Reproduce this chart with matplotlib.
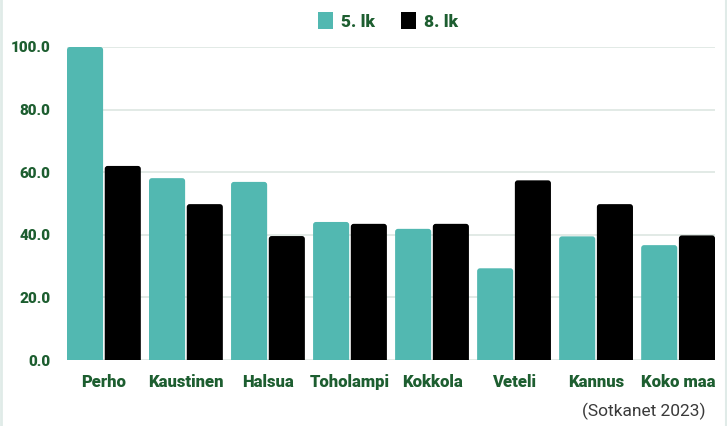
import matplotlib
matplotlib.use('Agg')
import matplotlib.pyplot as plt
from matplotlib.patches import FancyBboxPatch, Patch
import numpy as np

# data
kunnat = ['Perho', 'Kaustinen', 'Halsua', 'Toholampi', 'Kokkola', 'Veteli', 'Kannus', 'Koko maa']
lk5 = [100.0, 58.1, 56.9, 44.1, 41.9, 29.3, 39.5, 36.7]
lk8 = [62.0, 49.8, 39.6, 43.5, 43.5, 57.4, 49.8, 39.8]
sarjat = ['5. lk', '8. lk']
yticks = [0, 20, 40, 60, 80, 100]

plt.rcParams['font.family'] = ['Roboto', 'DejaVu Sans']

teal = '#52b8b1'
green = '#1d5e30'
colors = [teal, 'black']

fig = plt.figure(figsize=(7.27, 4.26), dpi=100)
ax = fig.add_axes([67/727, 66/426, 648/727, 313/426])

x = np.arange(len(kunnat))
w = 0.44
b1 = ax.bar(x - 0.23, lk5, w, color=colors[0], zorder=3)
b2 = ax.bar(x + 0.23, lk8, w, color=colors[1], zorder=3)

ax.set_xlim(-0.45, len(kunnat) - 1 + 0.45)
ax.set_ylim(0, 100)

# slightly rounded bar tops: swap each rectangle for a rounded box
# (bottom pushed below 0 so only the top corners show)
asp = (100 / 313) / ((len(kunnat) - 0.1) / 648)
for bars in (b1, b2):
    for r in bars:
        r.set_visible(False)
        bx, by, bw, bh = r.get_x(), r.get_y(), r.get_width(), r.get_height()
        p = FancyBboxPatch((bx, by - 3), bw, bh + 3,
                           boxstyle='round,pad=0,rounding_size=0.035',
                           mutation_aspect=asp, facecolor=r.get_facecolor(),
                           edgecolor='none', zorder=3)
        ax.add_patch(p)

ax.set_yticks(yticks)
ax.set_yticklabels(['%.1f' % v for v in yticks])
ax.set_xticks(x)
ax.set_xticklabels(kunnat)
ax.grid(axis='y', color='#dde6e1', linewidth=1.2, zorder=0)
for s in ax.spines.values():
    s.set_visible(False)
ax.tick_params(length=0)
ax.tick_params(axis='y', pad=12)
ax.tick_params(axis='x', pad=10)
for lab in ax.get_yticklabels():
    lab.set_color(green)
    lab.set_fontweight('heavy')
    lab.set_fontsize(11)
for lab in ax.get_xticklabels():
    lab.set_color(green)
    lab.set_fontweight('heavy')
    lab.set_fontsize(12)

handles = [Patch(facecolor=c, edgecolor='none') for c in colors]
leg = fig.legend(handles, sarjat, loc='center', bbox_to_anchor=(388/727, 1 - 21/426), ncol=2,
                 frameon=False, handlelength=0.85, handleheight=1.15, columnspacing=1.5,
                 handletextpad=0.45, prop={'weight': 'heavy', 'size': 12.5})
for t in leg.get_texts():
    t.set_color(green)

fig.text(706/727, 1 - 411/426, '(Sotkanet 2023)', ha='right', va='center', fontsize=12.5, color='#3a3a3a')

# light frame lines at the sides
fig.add_artist(plt.Line2D([1/727, 1/727], [0, 1], color='#e0ebe8', linewidth=2, transform=fig.transFigure))
fig.add_artist(plt.Line2D([725.5/727, 725.5/727], [0, 1], color='#e0ebe8', linewidth=1.5, transform=fig.transFigure))

fig.savefig('out.png', dpi=100)
